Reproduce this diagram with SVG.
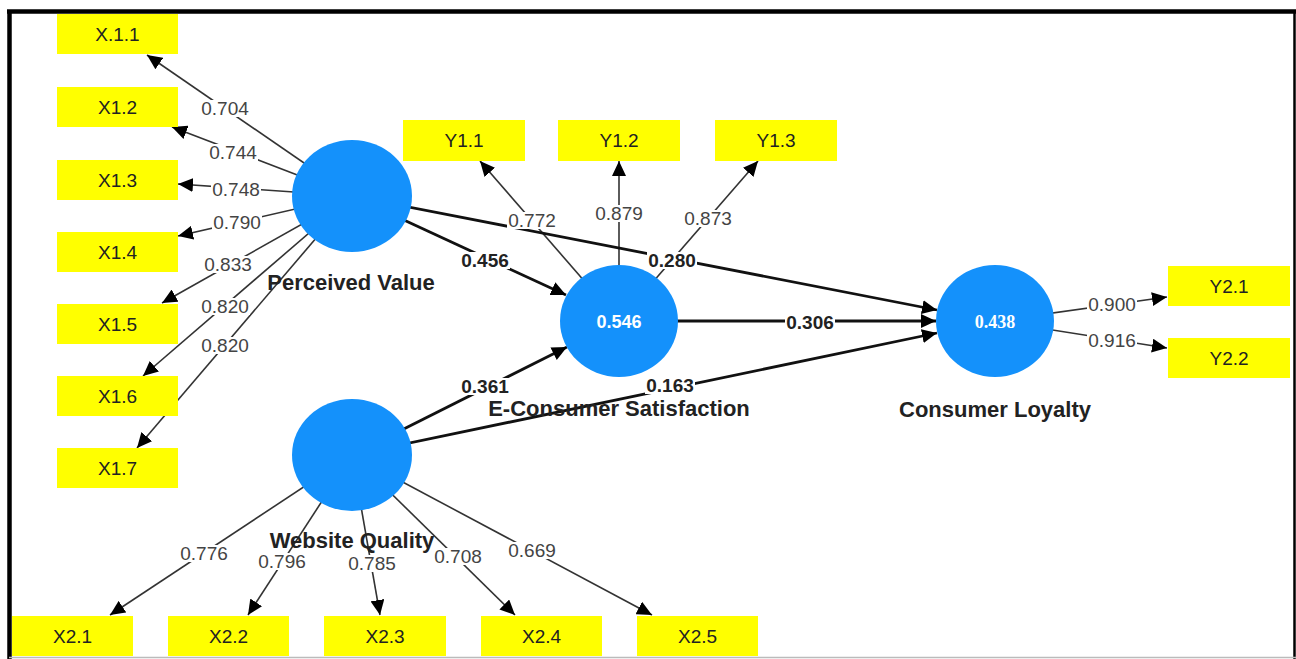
<svg xmlns="http://www.w3.org/2000/svg" width="1296" height="659" viewBox="0 0 1296 659">
<style>
.box{fill:#ffff00}
.bt{font-family:"Liberation Sans",Arial,sans-serif;font-size:19px;fill:#222;text-anchor:middle}
.lv{fill:#1491fb}
.cn{font-family:"Liberation Sans",Arial,sans-serif;font-size:22px;font-weight:bold;fill:#222;text-anchor:middle}
.ld{stroke:#333;stroke-width:1.6;fill:none;marker-end:url(#ah)}
.pt{stroke:#111;stroke-width:2.8;fill:none;marker-end:url(#ah)}
.el{font-family:"Liberation Sans",Arial,sans-serif;font-size:19px;fill:#444;text-anchor:middle}
.eb{font-family:"Liberation Sans",Arial,sans-serif;font-size:19px;font-weight:bold;fill:#222;text-anchor:middle}
.bg{fill:#fff}
.iv{font-family:"Liberation Sans",Arial,sans-serif;font-size:18px;font-weight:bold;fill:#fff;text-anchor:middle}
</style>
<defs>
<marker id="ah" markerUnits="userSpaceOnUse" markerWidth="16" markerHeight="14" refX="15" refY="7" orient="auto">
<path d="M0,0 L15,7 L0,14 z" fill="#000"/>
</marker>
</defs>
<rect x="0" y="0" width="1296" height="659" fill="#fff"/>
<g id="frame">
<line x1="7" y1="11.5" x2="1296" y2="11.5" stroke="#000" stroke-width="4.5"/>
<line x1="9.5" y1="10" x2="9.5" y2="659" stroke="#000" stroke-width="4.5"/>
<line x1="1294.5" y1="10" x2="1294.5" y2="659" stroke="#000" stroke-width="2.5"/>
<line x1="9" y1="657.5" x2="1296" y2="657.5" stroke="#bbb" stroke-width="1.5"/>
</g>
<g id="connectors">
<line class="ld" x1="352" y1="196" x2="147" y2="55"/>
<line class="ld" x1="352" y1="196" x2="172" y2="127"/>
<line class="ld" x1="352" y1="196" x2="178" y2="184"/>
<line class="ld" x1="352" y1="196" x2="178" y2="236"/>
<line class="ld" x1="352" y1="196" x2="162" y2="303"/>
<line class="ld" x1="352" y1="196" x2="143" y2="376"/>
<line class="ld" x1="352" y1="196" x2="137" y2="448"/>
<line class="ld" x1="619" y1="321" x2="480" y2="161"/>
<line class="ld" x1="619" y1="321" x2="619" y2="161"/>
<line class="ld" x1="619" y1="321" x2="758" y2="161"/>
<line class="ld" x1="995" y1="321" x2="1167" y2="297"/>
<line class="ld" x1="995" y1="321" x2="1167" y2="348"/>
<line class="ld" x1="352" y1="455" x2="110" y2="615"/>
<line class="ld" x1="352" y1="455" x2="248" y2="615"/>
<line class="ld" x1="352" y1="455" x2="380" y2="615"/>
<line class="ld" x1="352" y1="455" x2="515" y2="615"/>
<line class="ld" x1="352" y1="455" x2="652" y2="615"/>
<line class="pt" x1="352" y1="196" x2="566" y2="295"/>
<line class="pt" x1="352" y1="196" x2="937" y2="310"/>
<line class="pt" x1="619" y1="321" x2="936" y2="321"/>
<line class="pt" x1="352" y1="455" x2="567" y2="347"/>
<line class="pt" x1="352" y1="455" x2="937" y2="333"/>
<g id="edge-labels">
<rect class="bg" x="200" y="100" width="50" height="17"/><text class="el" x="225" y="115">0.704</text>
<rect class="bg" x="208" y="144" width="50" height="17"/><text class="el" x="233" y="159">0.744</text>
<rect class="bg" x="211" y="181" width="50" height="17"/><text class="el" x="236" y="196">0.748</text>
<rect class="bg" x="212" y="214" width="50" height="17"/><text class="el" x="237" y="229">0.790</text>
<rect class="bg" x="203" y="256" width="50" height="17"/><text class="el" x="228" y="271">0.833</text>
<rect class="bg" x="200" y="298" width="50" height="17"/><text class="el" x="225" y="313">0.820</text>
<rect class="bg" x="200" y="337" width="50" height="17"/><text class="el" x="225" y="352">0.820</text>
<rect class="bg" x="507" y="212" width="50" height="17"/><text class="el" x="532" y="227">0.772</text>
<rect class="bg" x="594" y="205" width="50" height="17"/><text class="el" x="619" y="220">0.879</text>
<rect class="bg" x="683" y="210" width="50" height="17"/><text class="el" x="708" y="225">0.873</text>
<rect class="bg" x="460" y="252" width="50" height="17"/><text class="eb" x="485" y="267">0.456</text>
<rect class="bg" x="647" y="252" width="50" height="17"/><text class="eb" x="672" y="267">0.280</text>
<rect class="bg" x="785" y="314" width="50" height="17"/><text class="eb" x="810" y="329">0.306</text>
<rect class="bg" x="460" y="378" width="50" height="17"/><text class="eb" x="485" y="393">0.361</text>
<rect class="bg" x="645" y="377" width="50" height="17"/><text class="eb" x="670" y="392">0.163</text>
<rect class="bg" x="1087" y="296" width="50" height="17"/><text class="el" x="1112" y="311">0.900</text>
<rect class="bg" x="1087" y="332" width="50" height="17"/><text class="el" x="1112" y="347">0.916</text>
<rect class="bg" x="179" y="545" width="50" height="17"/><text class="el" x="204" y="560">0.776</text>
<rect class="bg" x="257" y="553" width="50" height="17"/><text class="el" x="282" y="568">0.796</text>
<rect class="bg" x="347" y="555" width="50" height="17"/><text class="el" x="372" y="570">0.785</text>
<rect class="bg" x="433" y="548" width="50" height="17"/><text class="el" x="458" y="563">0.708</text>
<rect class="bg" x="507" y="542" width="50" height="17"/><text class="el" x="532" y="557">0.669</text>
</g>
</g>
<g id="X1.1"><rect class="box" x="57" y="14" width="121" height="40"/><text class="bt" x="117.5" y="41">X.1.1</text></g>
<g id="X1.2"><rect class="box" x="57" y="87" width="121" height="40"/><text class="bt" x="117.5" y="114">X1.2</text></g>
<g id="X1.3"><rect class="box" x="57" y="160" width="121" height="40"/><text class="bt" x="117.5" y="187">X1.3</text></g>
<g id="X1.4"><rect class="box" x="57" y="232" width="121" height="40"/><text class="bt" x="117.5" y="259">X1.4</text></g>
<g id="X1.5"><rect class="box" x="57" y="304" width="121" height="40"/><text class="bt" x="117.5" y="331">X1.5</text></g>
<g id="X1.6"><rect class="box" x="57" y="376" width="121" height="40"/><text class="bt" x="117.5" y="403">X1.6</text></g>
<g id="X1.7"><rect class="box" x="57" y="448" width="121" height="40"/><text class="bt" x="117.5" y="475">X1.7</text></g>
<g id="Y1.1"><rect class="box" x="403" y="120" width="122" height="41"/><text class="bt" x="464" y="147">Y1.1</text></g>
<g id="Y1.2"><rect class="box" x="558" y="120" width="122" height="41"/><text class="bt" x="619" y="147">Y1.2</text></g>
<g id="Y1.3"><rect class="box" x="715" y="120" width="122" height="41"/><text class="bt" x="776" y="147">Y1.3</text></g>
<g id="Y2.1"><rect class="box" x="1168" y="266" width="122" height="40"/><text class="bt" x="1229" y="293">Y2.1</text></g>
<g id="Y2.2"><rect class="box" x="1168" y="338" width="122" height="40"/><text class="bt" x="1229" y="365">Y2.2</text></g>
<g id="X2.1"><rect class="box" x="12" y="616" width="121" height="40"/><text class="bt" x="72.5" y="643">X2.1</text></g>
<g id="X2.2"><rect class="box" x="168" y="616" width="121" height="40"/><text class="bt" x="228.5" y="643">X2.2</text></g>
<g id="X2.3"><rect class="box" x="324" y="616" width="122" height="40"/><text class="bt" x="385" y="643">X2.3</text></g>
<g id="X2.4"><rect class="box" x="481" y="616" width="121" height="40"/><text class="bt" x="541.5" y="643">X2.4</text></g>
<g id="X2.5"><rect class="box" x="637" y="616" width="121" height="40"/><text class="bt" x="697.5" y="643">X2.5</text></g>
<g id="perceived-value"><ellipse class="lv" cx="352" cy="196" rx="60" ry="56"/><text class="cn" x="351" y="290">Perceived Value</text></g>
<g id="website-quality"><ellipse class="lv" cx="352" cy="455" rx="60" ry="56"/><text class="cn" x="352" y="548">Website Quality</text></g>
<g id="e-consumer-satisfaction"><ellipse class="lv" cx="619" cy="321" rx="59" ry="56"/><text class="iv" x="619" y="328">0.546</text><text class="cn" x="619" y="416">E-Consumer Satisfaction</text></g>
<g id="consumer-loyalty"><ellipse class="lv" cx="995" cy="321" rx="59" ry="56"/><text class="iv" x="995" y="328" style="font-family:'Liberation Serif',serif">0.438</text><text class="cn" x="995" y="417">Consumer Loyalty</text></g>
</svg>
